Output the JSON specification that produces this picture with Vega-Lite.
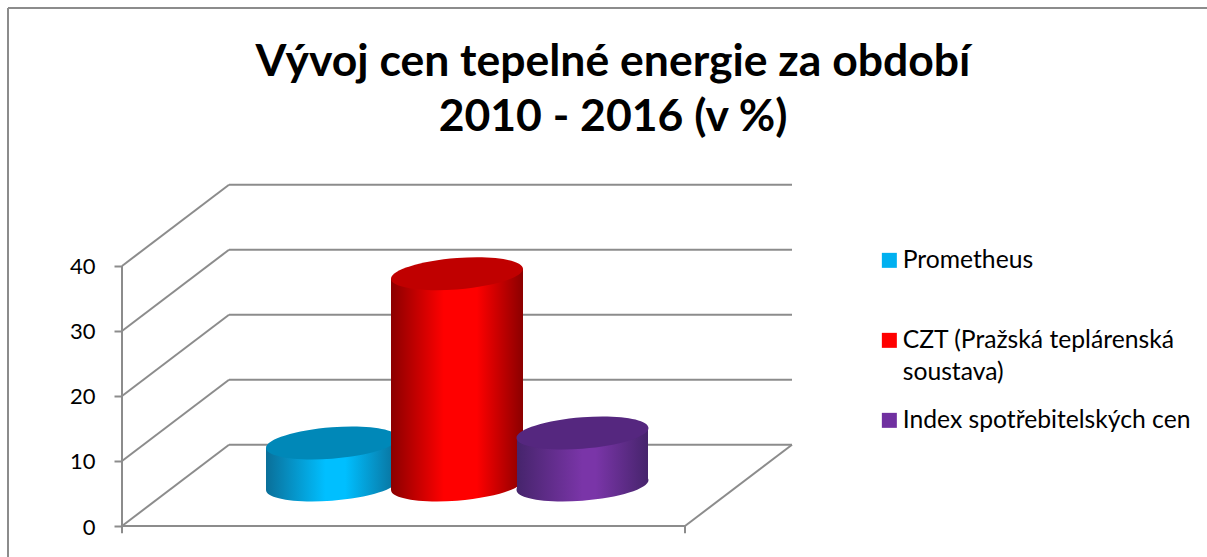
{
"$schema":"https://vega.github.io/schema/vega-lite/v6.json",
"width":670,"height":342,
"autosize":{"type":"none"},
"padding":{"left":122,"top":184,"right":415,"bottom":31},
"background":"#ffffff",
"title":{"text":["Vývoj cen tepelné energie za období","2010 - 2016 (v %)"],"font":"Lato","fontSize":44.5,"fontWeight":"bold","color":"#000000","anchor":"middle","frame":"group","dx":156,"offset":-168,"lineHeight":55,"baseline":"alphabetic"},
"config":{"view":{"stroke":null},"font":"Lato"},
"datasets":{
"lines":[
{"x":-114,"x2":1085,"y":79.69,"y2":79.69},
{"x":-114,"x2":-114,"y":79.69,"y2":-4.77},
{"x":0,"x2":0,"y":-1.1,"y2":40},
{"x":563,"x2":563,"y":-1.1,"y2":0},
{"x":0,"x2":563,"y":0,"y2":0},
{"x":563,"x2":670,"y":0,"y2":12.5},
{"x":0,"x2":107,"y":0,"y2":12.5},
{"x":0,"x2":107,"y":10,"y2":22.5},
{"x":0,"x2":107,"y":20,"y2":32.5},
{"x":0,"x2":107,"y":30,"y2":42.5},
{"x":0,"x2":107,"y":40,"y2":52.5},
{"x":107,"x2":670,"y":12.5,"y2":12.5},
{"x":107,"x2":670,"y":22.5,"y2":22.5},
{"x":107,"x2":670,"y":32.5,"y2":32.5},
{"x":107,"x2":670,"y":42.5,"y2":42.5},
{"x":107,"x2":670,"y":52.5,"y2":52.5}
],
"sides":[
{"series":"Prometheus","x":144,"top":5.69,"bottom":-0.77},
{"series":"Prometheus","x":276,"top":7.23,"bottom":0.77},
{"series":"CZT (Pražská teplárenská soustava)","x":269,"top":31.73,"bottom":-0.77},
{"series":"CZT (Pražská teplárenská soustava)","x":401,"top":33.27,"bottom":0.77},
{"series":"Index spotřebitelských cen","x":395,"top":7.23,"bottom":-0.77},
{"series":"Index spotřebitelských cen","x":526,"top":8.77,"bottom":0.77}
],
"bars":[
{"series":"Prometheus","center":210,"value":6.46},
{"series":"CZT (Pražská teplárenská soustava)","center":335,"value":32.5},
{"series":"Index spotřebitelských cen","center":460.5,"value":8}
]
},
"encoding":{},
"layer":[
{"data":{"name":"lines"},"mark":{"type":"rule","stroke":"#8c8c8c","strokeWidth":2},
"encoding":{
"x":{"field":"x","type":"quantitative","scale":{"domain":[0,670],"nice":false,"zero":false},"axis":null},
"x2":{"field":"x2"},
"y":{"field":"y","type":"quantitative","scale":{"domain":[0,52.615],"nice":false,"zero":false},
"axis":{"values":[0,10,20,30,40],"title":null,"grid":false,"domain":false,"tickColor":"#8c8c8c","tickWidth":2,"tickSize":8,"labelFont":"Lato","labelFontSize":22,"labelColor":"#000000","labelPadding":19,"labelOffset":1}},
"y2":{"field":"y2"}}},

{"data":{"name":"sides"},"transform":[{"filter":"datum.series==='Prometheus'"}],
"mark":{"type":"area","yOffset":-41,"y2Offset":-41,"color":{"gradient":"linear","x1":0,"x2":1,"y1":0,"y2":0,"stops":[{"offset":0,"color":"#0a6f99"},{"offset":0.45,"color":"#00bfff"},{"offset":0.6,"color":"#00bfff"},{"offset":1,"color":"#0a6f99"}]}},
"encoding":{"x":{"field":"x","type":"quantitative"},"y":{"field":"top","type":"quantitative"},"y2":{"field":"bottom"}}},
{"data":{"name":"bars"},"transform":[{"filter":"datum.series==='Prometheus'"}],
"mark":{"type":"point","filled":true,"opacity":1,"size":4,"yOffset":-41,"shape":"M66,-5C66,3.67 36.45,12.94 0,15.7C-36.45,18.46 -66,13.67 -66,5C-66,-3.67 -36.45,-12.94 0,-15.7C36.45,-18.46 66,-13.67 66,-5Z","color":{"gradient":"linear","x1":0,"x2":1,"y1":0,"y2":0,"stops":[{"offset":0,"color":"#0a6f99"},{"offset":0.45,"color":"#00bfff"},{"offset":0.6,"color":"#00bfff"},{"offset":1,"color":"#0a6f99"}]}},
"encoding":{"x":{"field":"center","type":"quantitative"},"y":{"datum":0,"type":"quantitative"}}},
{"data":{"name":"bars"},"transform":[{"filter":"datum.series==='Prometheus'"}],
"mark":{"type":"point","filled":true,"opacity":1,"size":4,"yOffset":-41,"color":"#0088b8","shape":"M66,-5C66,3.67 36.45,12.94 0,15.7C-36.45,18.46 -66,13.67 -66,5C-66,-3.67 -36.45,-12.94 0,-15.7C36.45,-18.46 66,-13.67 66,-5Z"},
"encoding":{"x":{"field":"center","type":"quantitative"},"y":{"field":"value","type":"quantitative"}}},

{"data":{"name":"sides"},"transform":[{"filter":"datum.series!=='Prometheus'&&datum.series!=='Index spotřebitelských cen'"}],
"mark":{"type":"area","yOffset":-41,"y2Offset":-41,"color":{"gradient":"linear","x1":0,"x2":1,"y1":0,"y2":0,"stops":[{"offset":0,"color":"#8b0000"},{"offset":0.4,"color":"#ff0000"},{"offset":0.65,"color":"#ff0000"},{"offset":1,"color":"#8b0000"}]}},
"encoding":{"x":{"field":"x","type":"quantitative"},"y":{"field":"top","type":"quantitative"},"y2":{"field":"bottom"}}},
{"data":{"name":"bars"},"transform":[{"filter":"datum.center===335"}],
"mark":{"type":"point","filled":true,"opacity":1,"size":4,"yOffset":-41,"shape":"M66,-5C66,3.67 36.45,12.94 0,15.7C-36.45,18.46 -66,13.67 -66,5C-66,-3.67 -36.45,-12.94 0,-15.7C36.45,-18.46 66,-13.67 66,-5Z","color":{"gradient":"linear","x1":0,"x2":1,"y1":0,"y2":0,"stops":[{"offset":0,"color":"#8b0000"},{"offset":0.4,"color":"#ff0000"},{"offset":0.65,"color":"#ff0000"},{"offset":1,"color":"#8b0000"}]}},
"encoding":{"x":{"field":"center","type":"quantitative"},"y":{"datum":0,"type":"quantitative"}}},
{"data":{"name":"bars"},"transform":[{"filter":"datum.center===335"}],
"mark":{"type":"point","filled":true,"opacity":1,"size":4,"yOffset":-41,"color":"#c00000","shape":"M66,-5C66,3.67 36.45,12.94 0,15.7C-36.45,18.46 -66,13.67 -66,5C-66,-3.67 -36.45,-12.94 0,-15.7C36.45,-18.46 66,-13.67 66,-5Z"},
"encoding":{"x":{"field":"center","type":"quantitative"},"y":{"field":"value","type":"quantitative"}}},

{"data":{"name":"sides"},"transform":[{"filter":"datum.series==='Index spotřebitelských cen'"}],
"mark":{"type":"area","yOffset":-41,"y2Offset":-41,"color":{"gradient":"linear","x1":0,"x2":1,"y1":0,"y2":0,"stops":[{"offset":0,"color":"#46246c"},{"offset":0.5,"color":"#7a35a8"},{"offset":0.6,"color":"#7a35a8"},{"offset":1,"color":"#46246c"}]}},
"encoding":{"x":{"field":"x","type":"quantitative"},"y":{"field":"top","type":"quantitative"},"y2":{"field":"bottom"}}},
{"data":{"name":"bars"},"transform":[{"filter":"datum.series==='Index spotřebitelských cen'"}],
"mark":{"type":"point","filled":true,"opacity":1,"size":4,"yOffset":-41,"shape":"M66,-5C66,3.67 36.45,12.94 0,15.7C-36.45,18.46 -66,13.67 -66,5C-66,-3.67 -36.45,-12.94 0,-15.7C36.45,-18.46 66,-13.67 66,-5Z","color":{"gradient":"linear","x1":0,"x2":1,"y1":0,"y2":0,"stops":[{"offset":0,"color":"#46246c"},{"offset":0.5,"color":"#7a35a8"},{"offset":0.6,"color":"#7a35a8"},{"offset":1,"color":"#46246c"}]}},
"encoding":{"x":{"field":"center","type":"quantitative"},"y":{"datum":0,"type":"quantitative"}}},
{"data":{"name":"bars"},"transform":[{"filter":"datum.series==='Index spotřebitelských cen'"}],
"mark":{"type":"point","filled":true,"opacity":1,"size":4,"yOffset":-41,"color":"#55277f","shape":"M66,-5C66,3.67 36.45,12.94 0,15.7C-36.45,18.46 -66,13.67 -66,5C-66,-3.67 -36.45,-12.94 0,-15.7C36.45,-18.46 66,-13.67 66,-5Z"},
"encoding":{"x":{"field":"center","type":"quantitative"},"y":{"field":"value","type":"quantitative"}}},

{"data":{"name":"bars"},"mark":{"type":"point","filled":true,"opacity":0,"size":1},
"encoding":{"x":{"field":"center","type":"quantitative"},"y":{"field":"value","type":"quantitative"},
"color":{"field":"series","type":"nominal","sort":null,
"scale":{"domain":["Prometheus","CZT (Pražská teplárenská soustava)","Index spotřebitelských cen"],"range":["#00b0f0","#ff0000","#7030a0"]},
"legend":{"title":null,"orient":"none","legendX":755,"legendY":64,"symbolType":"square","symbolSize":225,"symbolOpacity":1,"symbolStrokeWidth":0,"columns":1,"rowPadding":22,"labelFont":"Lato","labelFontSize":24.7,"labelColor":"#000000","labelLimit":400,"labelOffset":1,"labelBaseline":"alphabetic",
"labelExpr":"datum.label==='CZT (Pražská teplárenská soustava)'?['CZT (Pražská teplárenská','soustava)']:[datum.label,' ']",
"encoding":{"labels":{"dy":{"value":8},"lineHeight":{"value":32}}}}}}}
]
}
